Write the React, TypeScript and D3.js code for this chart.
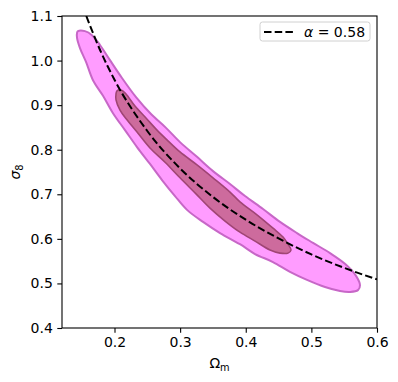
import React, { useEffect, useRef } from 'react';
import * as d3 from 'd3';

// outer (95%) contour, going round clockwise
const outerOmega = [0.1444, 0.155, 0.1657, 0.1779, 0.1931, 0.2114, 0.2328, 0.2556, 0.2785, 0.2998, 0.3257, 0.3501, 0.376, 0.3989, 0.4263, 0.4522, 0.4781, 0.5025, 0.5284, 0.5512, 0.568, 0.5741, 0.571, 0.5589, 0.5436, 0.5208, 0.4933, 0.4674, 0.4415, 0.4141, 0.3912, 0.3608, 0.3349, 0.3105, 0.2922, 0.2724, 0.2541, 0.2343, 0.216, 0.1977, 0.1825, 0.1672, 0.1566, 0.1474, 0.1429, 0.1429];
const outerSigma = [1.066, 1.066, 1.057, 1.035, 1.001, 0.961, 0.918, 0.88, 0.849, 0.817, 0.784, 0.752, 0.723, 0.696, 0.667, 0.638, 0.613, 0.591, 0.568, 0.544, 0.517, 0.496, 0.485, 0.481, 0.483, 0.492, 0.508, 0.526, 0.548, 0.566, 0.588, 0.613, 0.638, 0.665, 0.696, 0.732, 0.768, 0.806, 0.844, 0.882, 0.921, 0.956, 0.997, 1.028, 1.051, 1.062];

// inner (68%) contour
const innerOmega = [0.2038, 0.2099, 0.2175, 0.2312, 0.248, 0.2648, 0.2815, 0.2998, 0.3257, 0.3501, 0.376, 0.3912, 0.4171, 0.4415, 0.4568, 0.4644, 0.469, 0.4644, 0.4522, 0.437, 0.4141, 0.3912, 0.3684, 0.3455, 0.3242, 0.2998, 0.277, 0.2541, 0.2358, 0.219, 0.2084, 0.2023, 0.2023];
const innerSigma = [0.932, 0.934, 0.925, 0.898, 0.871, 0.844, 0.82, 0.795, 0.766, 0.737, 0.705, 0.683, 0.654, 0.624, 0.604, 0.588, 0.575, 0.568, 0.568, 0.575, 0.595, 0.615, 0.64, 0.669, 0.701, 0.737, 0.772, 0.804, 0.837, 0.867, 0.889, 0.912, 0.925];

// dashed alpha = 0.58 line
const fitOmega = [0.157, 0.18, 0.2, 0.25, 0.3, 0.35, 0.4, 0.45, 0.5, 0.55, 0.6];
const fitSigma = [1.1, 1.017, 0.957, 0.842, 0.758, 0.694, 0.643, 0.601, 0.565, 0.535, 0.509];

const omegaTicks = [0.2, 0.3, 0.4, 0.5, 0.6];
const sigmaTicks = [0.4, 0.5, 0.6, 0.7, 0.8, 0.9, 1.0, 1.1];
const legendLabel = '0.58';

const W = 398;
const H = 382;
const margin = { top: 16, right: 21, bottom: 54, left: 62 };
const FONT = 'DejaVu Sans, sans-serif';
const FS = 14;

export default function App() {
  const ref = useRef<SVGSVGElement>(null);

  useEffect(() => {
    const svg = d3.select(ref.current);
    svg.selectAll('*').remove();

    const width = W - margin.left - margin.right;
    const height = H - margin.top - margin.bottom;

    const x = d3.scaleLinear().domain([0.12, 0.6]).range([0, width]);
    const y = d3.scaleLinear().domain([0.4, 1.1]).range([height, 0]);

    const g = svg.append('g').attr('transform', `translate(${margin.left},${margin.top})`);

    g.append('clipPath').attr('id', 'plot-clip')
      .append('rect').attr('width', width).attr('height', height);

    const plot = g.append('g').attr('clip-path', 'url(#plot-clip)');

    const contour = d3.line<[number, number]>()
      .x(d => x(d[0]))
      .y(d => y(d[1]))
      .curve(d3.curveCatmullRomClosed.alpha(0.5));

    const outer = outerOmega.map((o, i) => [o, outerSigma[i]] as [number, number]);
    const inner = innerOmega.map((o, i) => [o, innerSigma[i]] as [number, number]);

    plot.append('path')
      .attr('d', contour(outer))
      .attr('fill', '#ff9cff')
      .attr('stroke', '#c767c7')
      .attr('stroke-width', 2);

    plot.append('path')
      .attr('d', contour(inner))
      .attr('fill', '#cd6b9d')
      .attr('stroke', '#a04575')
      .attr('stroke-width', 1.6);

    const fitLine = d3.line<[number, number]>()
      .x(d => x(d[0]))
      .y(d => y(d[1]))
      .curve(d3.curveMonotoneX);

    plot.append('path')
      .attr('d', fitLine(fitOmega.map((o, i) => [o, fitSigma[i]] as [number, number])))
      .attr('fill', 'none')
      .attr('stroke', '#000')
      .attr('stroke-width', 2)
      .attr('stroke-dasharray', '7.5,3.2');

    // axes
    const xAxis = g.append('g')
      .attr('transform', `translate(0,${height})`)
      .call(d3.axisBottom(x).tickValues(omegaTicks).tickFormat(d3.format('.1f')).tickSize(4.7).tickPadding(4.5));
    const yAxis = g.append('g')
      .call(d3.axisLeft(y).tickValues(sigmaTicks).tickFormat(d3.format('.1f')).tickSize(4.7).tickPadding(4.5));

    [xAxis, yAxis].forEach(a => {
      a.select('.domain').remove();
      a.attr('font-family', FONT).attr('font-size', FS);
      a.selectAll('line').attr('stroke', '#000').attr('stroke-width', 1.1);
      a.selectAll('text').attr('fill', '#000');
    });

    g.append('rect')
      .attr('width', width)
      .attr('height', height)
      .attr('fill', 'none')
      .attr('stroke', '#000')
      .attr('stroke-width', 1.1);

    // axis labels
    const xl = g.append('text')
      .attr('x', width / 2)
      .attr('y', height + 40)
      .attr('text-anchor', 'middle')
      .attr('font-family', FONT)
      .attr('font-size', FS);
    xl.append('tspan').text('Ω');
    xl.append('tspan').attr('font-size', FS * 0.7).attr('dy', 3).text('m');

    const yl = g.append('text')
      .attr('transform', `translate(${-42},${height / 2}) rotate(-90)`)
      .attr('text-anchor', 'middle')
      .attr('font-family', FONT)
      .attr('font-size', FS);
    yl.append('tspan').attr('font-style', 'italic').text('σ');
    yl.append('tspan').attr('font-size', FS * 0.7).attr('dy', 3).text('8');

    // legend
    const lg = g.append('g').attr('transform', `translate(${width - 117},${6})`);
    lg.append('rect')
      .attr('width', 110)
      .attr('height', 19)
      .attr('rx', 2.5)
      .attr('fill', 'rgba(255,255,255,0.8)')
      .attr('stroke', '#d0d0d0')
      .attr('stroke-width', 1);
    lg.append('line')
      .attr('x1', 4).attr('x2', 33)
      .attr('y1', 10).attr('y2', 10)
      .attr('stroke', '#000')
      .attr('stroke-width', 2)
      .attr('stroke-dasharray', '7.5,3.2');
    const lt = lg.append('text')
      .attr('x', 44)
      .attr('y', 14.8)
      .attr('font-family', FONT)
      .attr('font-size', FS);
    lt.append('tspan').attr('font-style', 'italic').text('α');
    lt.append('tspan').text(' = ' + legendLabel);
  }, []);

  return <svg ref={ref} width={W} height={H} style={{ position: 'absolute', left: 0, top: 0 }} />;
}
